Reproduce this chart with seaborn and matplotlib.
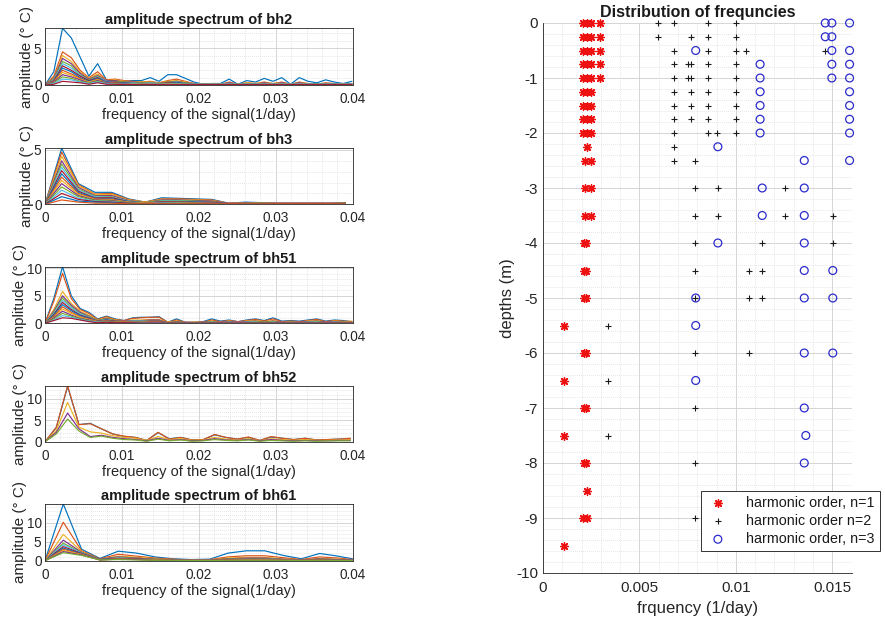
import numpy as np
import pandas as pd
import matplotlib
matplotlib.use("Agg")
import matplotlib.pyplot as plt
from matplotlib.ticker import MultipleLocator, FixedLocator, FixedFormatter
import seaborn as sns

# ---------------------------------------------------------------- data
# Amplitude spectra (deg C) per depth, one row per depth, on a uniform frequency grid
bh2_step = 0.00114
bh2_amp = [
    [0, 1.8, 7.7, 6.4, 3.8, 1.2, 2.9, 0.7, 0.6, 0.5, 0.6, 0.6, 1.0, 0.5, 1.4, 1.4, 0.9, 0.4, 0.1, 0.2, 0.2, 0.8, 0.1, 0.6, 0.4, 0.9, 0.5, 1.0, 0.1, 1.0, 0.5, 0.3, 0.7, 0.4, 0.2, 0.5],
    [0, 1.2, 4.5, 3.7, 2.0, 1.0, 1.8, 0.7, 0.8, 0.6, 0.5, 0.4, 0.5, 0.3, 0.6, 0.8, 0.5, 0.2, 0.1, 0.2, 0.1, 0.4, 0.1, 0.3, 0.2, 0.4, 0.2, 0.4, 0.1, 0.4, 0.2, 0.1, 0.3, 0.2, 0.1, 0.2],
    [0, 1.0, 4.0, 3.2, 1.8, 0.9, 1.5, 0.6, 0.7, 0.5, 0.4, 0.4, 0.4, 0.3, 0.5, 0.6, 0.4, 0.2, 0.1, 0.2, 0.1, 0.3, 0.1, 0.3, 0.2, 0.3, 0.2, 0.3, 0.1, 0.3, 0.2, 0.1, 0.2, 0.1, 0.1, 0.2],
    [0, 0.9, 3.6, 2.9, 1.6, 0.8, 1.3, 0.6, 0.6, 0.4, 0.4, 0.3, 0.3, 0.2, 0.4, 0.5, 0.3, 0.2, 0.1, 0.1, 0.1, 0.3, 0.1, 0.2, 0.1, 0.3, 0.1, 0.3, 0.1, 0.3, 0.1, 0.1, 0.2, 0.1, 0.1, 0.1],
    [0, 0.8, 3.2, 2.6, 1.4, 0.7, 1.2, 0.5, 0.5, 0.4, 0.3, 0.3, 0.3, 0.2, 0.4, 0.4, 0.3, 0.1, 0.1, 0.1, 0.1, 0.2, 0.1, 0.2, 0.1, 0.2, 0.1, 0.2, 0.1, 0.2, 0.1, 0.1, 0.2, 0.1, 0.1, 0.1],
    [0, 0.7, 2.9, 2.3, 1.3, 0.6, 1.1, 0.5, 0.4, 0.3, 0.3, 0.2, 0.3, 0.2, 0.3, 0.4, 0.2, 0.1, 0.1, 0.1, 0.1, 0.2, 0.1, 0.2, 0.1, 0.2, 0.1, 0.2, 0.1, 0.2, 0.1, 0.1, 0.1, 0.1, 0.1, 0.1],
    [0, 0.6, 2.6, 2.0, 1.2, 0.6, 1.0, 0.4, 0.4, 0.3, 0.2, 0.2, 0.2, 0.2, 0.3, 0.3, 0.2, 0.1, 0.1, 0.1, 0.1, 0.1, 0.1, 0.1, 0.1, 0.1, 0.1, 0.1, 0.1, 0.1, 0.1, 0.1, 0.1, 0.1, 0.1, 0.1],
    [0, 0.5, 2.3, 1.8, 1.0, 0.5, 0.9, 0.4, 0.3, 0.3, 0.2, 0.2, 0.2, 0.1, 0.2, 0.3, 0.2, 0.1, 0.1, 0.1, 0.1, 0.1, 0.1, 0.1, 0.1, 0.1, 0.1, 0.1, 0.1, 0.1, 0.1, 0.1, 0.1, 0.1, 0.1, 0.1],
    [0, 0.5, 2.0, 1.5, 0.9, 0.4, 0.8, 0.3, 0.3, 0.2, 0.2, 0.2, 0.2, 0.1, 0.2, 0.2, 0.1, 0.1, 0.1, 0.1, 0.1, 0.1, 0.1, 0.1, 0.1, 0.1, 0.1, 0.1, 0.1, 0.1, 0.1, 0.1, 0.1, 0.1, 0.1, 0.1],
    [0, 0.4, 1.7, 1.3, 0.8, 0.4, 0.7, 0.3, 0.2, 0.2, 0.2, 0.1, 0.1, 0.1, 0.2, 0.2, 0.1, 0.1, 0.1, 0.1, 0.1, 0.1, 0.1, 0.1, 0.1, 0.1, 0.1, 0.1, 0.1, 0.1, 0.1, 0.1, 0.1, 0.1, 0.1, 0.1],
    [0, 0.4, 1.4, 1.1, 0.7, 0.3, 0.6, 0.3, 0.2, 0.2, 0.1, 0.1, 0.1, 0.1, 0.1, 0.1, 0.1, 0.1, 0.1, 0.1, 0.1, 0.1, 0.1, 0.1, 0.1, 0.1, 0.1, 0.1, 0.1, 0.1, 0.1, 0.1, 0.1, 0.1, 0.1, 0.1],
    [0, 0.3, 1.1, 0.9, 0.5, 0.3, 0.5, 0.2, 0.2, 0.1, 0.1, 0.1, 0.1, 0.1, 0.1, 0.1, 0.1, 0.1, 0.1, 0.1, 0.1, 0.1, 0.1, 0.1, 0.1, 0.1, 0.1, 0.1, 0.1, 0.1, 0.1, 0.1, 0.1, 0.1, 0.1, 0.1],
    [0, 0.2, 0.8, 0.7, 0.4, 0.2, 0.4, 0.2, 0.1, 0.1, 0.1, 0.1, 0.1, 0.1, 0.1, 0.1, 0.1, 0.1, 0.1, 0.1, 0.1, 0.1, 0.1, 0.1, 0.1, 0.1, 0.1, 0.1, 0.1, 0.1, 0.1, 0.1, 0.1, 0.1, 0.1, 0.1],
    [0, 0.1, 0.5, 0.4, 0.3, 0.1, 0.3, 0.1, 0.1, 0.05, 0.05, 0.05, 0.05, 0.05, 0.05, 0.05, 0.05, 0.05, 0.05, 0.05, 0.05, 0.05, 0.05, 0.05, 0.05, 0.05, 0.05, 0.05, 0.05, 0.05, 0.05, 0.05, 0.05, 0.05, 0.05, 0.05],
]

bh3_step = 0.00217
bh3_amp = [
    [0, 5.15, 1.9, 1.1, 1.1, 0.5, 0.2, 0.6, 0.55, 0.5, 0.45, 0.1, 0.2, 0.15, 0.1, 0.1, 0.1, 0.1, 0.15],
    [0, 4.8, 1.8, 0.95, 1.0, 0.45, 0.2, 0.5, 0.5, 0.45, 0.4, 0.1, 0.15, 0.1, 0.1, 0.1, 0.1, 0.1, 0.1],
    [0, 4.4, 1.7, 0.9, 0.9, 0.4, 0.2, 0.45, 0.45, 0.4, 0.35, 0.1, 0.15, 0.1, 0.1, 0.1, 0.1, 0.1, 0.1],
    [0, 4.0, 1.55, 0.8, 0.8, 0.35, 0.15, 0.4, 0.4, 0.35, 0.3, 0.1, 0.1, 0.1, 0.1, 0.1, 0.1, 0.1, 0.1],
    [0, 3.7, 1.4, 0.75, 0.7, 0.3, 0.15, 0.35, 0.35, 0.3, 0.25, 0.05, 0.1, 0.1, 0.05, 0.05, 0.05, 0.05, 0.1],
    [0, 3.4, 1.3, 0.7, 0.65, 0.3, 0.1, 0.3, 0.3, 0.25, 0.2, 0.05, 0.1, 0.05, 0.05, 0.05, 0.05, 0.05, 0.05],
    [0, 3.1, 1.2, 0.6, 0.6, 0.25, 0.1, 0.25, 0.25, 0.2, 0.2, 0.05, 0.1, 0.05, 0.05, 0.05, 0.05, 0.05, 0.05],
    [0, 2.8, 1.1, 0.55, 0.5, 0.25, 0.1, 0.2, 0.2, 0.2, 0.15, 0.05, 0.05, 0.05, 0.05, 0.05, 0.05, 0.05, 0.05],
    [0, 2.5, 1.0, 0.5, 0.45, 0.2, 0.1, 0.2, 0.2, 0.15, 0.1, 0.05, 0.05, 0.05, 0.05, 0.05, 0.05, 0.05, 0.05],
    [0, 2.2, 0.9, 0.45, 0.4, 0.2, 0.1, 0.15, 0.15, 0.1, 0.1, 0.05, 0.05, 0.05, 0.05, 0.05, 0.05, 0.05, 0.05],
    [0, 1.9, 0.8, 0.4, 0.35, 0.15, 0.05, 0.15, 0.1, 0.1, 0.1, 0.05, 0.05, 0.05, 0.05, 0.05, 0.05, 0.05, 0.05],
    [0, 1.6, 0.7, 0.35, 0.3, 0.15, 0.05, 0.1, 0.1, 0.1, 0.05, 0.05, 0.05, 0.05, 0.05, 0.05, 0.05, 0.05, 0.05],
    [0, 1.3, 0.55, 0.3, 0.25, 0.1, 0.05, 0.1, 0.1, 0.05, 0.05, 0.05, 0.05, 0.05, 0.05, 0.05, 0.05, 0.05, 0.05],
    [0, 1.0, 0.45, 0.25, 0.2, 0.1, 0.05, 0.05, 0.05, 0.05, 0.05, 0.05, 0.05, 0.05, 0.05, 0.05, 0.05, 0.05, 0.05],
    [0, 0.7, 0.3, 0.2, 0.15, 0.05, 0.05, 0.05, 0.05, 0.05, 0.05, 0.05, 0.05, 0.05, 0.05, 0.05, 0.05, 0.05, 0.05],
    [0, 0.4, 0.2, 0.1, 0.1, 0.05, 0.05, 0.05, 0.05, 0.05, 0.05, 0.05, 0.05, 0.05, 0.05, 0.05, 0.05, 0.05, 0.05],
]

bh51_step = 0.00114
bh51_amp = [
    [0, 4.5, 10.3, 5.0, 2.7, 2.0, 0.8, 1.3, 0.8, 0.5, 1.0, 1.1, 1.1, 1.2, 0.2, 0.8, 0.2, 0.2, 0.3, 0.8, 0.4, 0.6, 0.3, 0.6, 0.8, 0.5, 1.0, 0.4, 0.5, 0.4, 0.6, 0.8, 0.4, 0.6, 0.5, 0.3],
    [0, 4.0, 9.1, 4.5, 2.5, 1.8, 0.7, 1.2, 0.7, 0.5, 0.9, 1.0, 1.1, 1.1, 0.2, 0.6, 0.2, 0.2, 0.2, 0.6, 0.3, 0.5, 0.3, 0.5, 0.7, 0.4, 0.8, 0.3, 0.4, 0.3, 0.5, 0.7, 0.3, 0.5, 0.4, 0.3],
    [0, 2.5, 5.8, 3.6, 2.2, 1.5, 0.6, 1.0, 0.6, 0.4, 0.6, 0.6, 0.7, 0.7, 0.2, 0.4, 0.1, 0.2, 0.2, 0.4, 0.2, 0.4, 0.2, 0.4, 0.5, 0.3, 0.5, 0.2, 0.3, 0.2, 0.4, 0.5, 0.2, 0.4, 0.3, 0.4],
    [0, 2.2, 5.0, 3.3, 2.0, 1.3, 0.5, 0.9, 0.5, 0.4, 0.5, 0.5, 0.6, 0.6, 0.1, 0.3, 0.1, 0.1, 0.2, 0.3, 0.2, 0.3, 0.2, 0.3, 0.4, 0.2, 0.4, 0.2, 0.2, 0.2, 0.3, 0.4, 0.2, 0.3, 0.2, 0.2],
    [0, 2.0, 4.6, 3.0, 1.8, 1.2, 0.5, 0.8, 0.5, 0.3, 0.4, 0.4, 0.5, 0.5, 0.1, 0.3, 0.1, 0.1, 0.1, 0.3, 0.1, 0.2, 0.1, 0.2, 0.3, 0.2, 0.3, 0.1, 0.2, 0.1, 0.2, 0.3, 0.1, 0.2, 0.2, 0.1],
    [0, 1.8, 4.2, 2.8, 1.7, 1.1, 0.4, 0.7, 0.4, 0.3, 0.4, 0.4, 0.4, 0.4, 0.1, 0.2, 0.1, 0.1, 0.1, 0.2, 0.1, 0.2, 0.1, 0.2, 0.2, 0.1, 0.2, 0.1, 0.1, 0.1, 0.2, 0.2, 0.1, 0.2, 0.1, 0.1],
    [0, 1.6, 3.8, 2.5, 1.5, 1.0, 0.4, 0.6, 0.4, 0.3, 0.3, 0.3, 0.4, 0.4, 0.1, 0.2, 0.1, 0.1, 0.1, 0.1, 0.1, 0.1, 0.1, 0.1, 0.1, 0.1, 0.1, 0.1, 0.1, 0.1, 0.1, 0.1, 0.1, 0.1, 0.1, 0.1],
    [0, 1.5, 3.4, 2.3, 1.4, 0.9, 0.3, 0.6, 0.3, 0.2, 0.3, 0.3, 0.3, 0.3, 0.1, 0.1, 0.1, 0.1, 0.1, 0.1, 0.1, 0.1, 0.1, 0.1, 0.1, 0.1, 0.1, 0.1, 0.1, 0.1, 0.1, 0.1, 0.1, 0.1, 0.1, 0.1],
    [0, 1.3, 3.0, 2.0, 1.2, 0.8, 0.3, 0.5, 0.3, 0.2, 0.2, 0.2, 0.3, 0.3, 0.1, 0.1, 0.1, 0.1, 0.1, 0.1, 0.1, 0.1, 0.1, 0.1, 0.1, 0.1, 0.1, 0.1, 0.1, 0.1, 0.1, 0.1, 0.1, 0.1, 0.1, 0.1],
    [0, 1.1, 2.6, 1.8, 1.1, 0.7, 0.3, 0.4, 0.2, 0.2, 0.2, 0.2, 0.2, 0.2, 0.1, 0.1, 0.1, 0.1, 0.1, 0.1, 0.1, 0.1, 0.1, 0.1, 0.1, 0.1, 0.1, 0.1, 0.1, 0.1, 0.1, 0.1, 0.1, 0.1, 0.1, 0.1],
    [0, 1.0, 2.2, 1.5, 0.9, 0.6, 0.2, 0.4, 0.2, 0.1, 0.1, 0.1, 0.2, 0.2, 0.1, 0.1, 0.1, 0.1, 0.1, 0.1, 0.1, 0.1, 0.1, 0.1, 0.1, 0.1, 0.1, 0.1, 0.1, 0.1, 0.1, 0.1, 0.1, 0.1, 0.1, 0.1],
    [0, 0.8, 1.8, 1.3, 0.8, 0.5, 0.2, 0.3, 0.2, 0.1, 0.1, 0.1, 0.1, 0.1, 0.1, 0.1, 0.1, 0.1, 0.1, 0.1, 0.1, 0.1, 0.1, 0.1, 0.1, 0.1, 0.1, 0.1, 0.1, 0.1, 0.1, 0.1, 0.1, 0.1, 0.1, 0.1],
    [0, 0.6, 1.4, 1.1, 0.7, 0.4, 0.2, 0.2, 0.1, 0.1, 0.1, 0.1, 0.1, 0.1, 0.05, 0.05, 0.05, 0.05, 0.05, 0.05, 0.05, 0.05, 0.05, 0.05, 0.05, 0.05, 0.05, 0.05, 0.05, 0.05, 0.05, 0.05, 0.05, 0.05, 0.05, 0.05],
    [0, 0.5, 1.0, 0.9, 0.6, 0.3, 0.1, 0.2, 0.1, 0.1, 0.1, 0.05, 0.05, 0.05, 0.05, 0.05, 0.05, 0.05, 0.05, 0.05, 0.05, 0.05, 0.05, 0.05, 0.05, 0.05, 0.05, 0.05, 0.05, 0.05, 0.05, 0.05, 0.05, 0.05, 0.05, 0.05],
]

bh52_step = 0.00147
bh52_amp = [
    [0, 3.3, 12.9, 4.0, 4.3, 3.0, 1.8, 1.2, 1.0, 0.3, 2.1, 0.7, 1.0, 0.4, 0.5, 1.6, 1.0, 0.6, 1.0, 0.3, 1.1, 0.8, 0.5, 0.8, 0.4, 0.5, 0.6, 0.7],
    [0, 3.4, 13.1, 4.0, 4.2, 3.0, 1.8, 1.3, 1.0, 0.3, 2.2, 0.6, 1.0, 0.4, 0.5, 1.7, 1.0, 0.6, 1.1, 0.3, 1.2, 0.8, 0.5, 0.8, 0.4, 0.5, 0.6, 0.8],
    [0, 2.6, 9.2, 3.4, 2.3, 2.0, 1.4, 1.0, 0.8, 0.3, 1.2, 0.5, 0.7, 0.3, 0.4, 1.0, 0.6, 0.4, 0.7, 0.2, 0.7, 0.5, 0.3, 0.5, 0.3, 0.3, 0.4, 0.5],
    [0, 2.2, 6.7, 3.0, 1.2, 1.5, 1.0, 0.7, 0.5, 0.2, 0.8, 0.3, 0.5, 0.2, 0.3, 0.7, 0.4, 0.3, 0.5, 0.2, 0.5, 0.3, 0.2, 0.3, 0.2, 0.2, 0.3, 0.3],
    [0, 1.8, 5.3, 2.5, 1.0, 1.3, 0.8, 0.5, 0.4, 0.1, 0.6, 0.2, 0.4, 0.1, 0.2, 0.5, 0.3, 0.2, 0.4, 0.1, 0.3, 0.2, 0.1, 0.2, 0.1, 0.2, 0.2, 0.2],
]

bh61_step = 0.00238
bh61_amp = [
    [0, 14.9, 3.0, 0.6, 2.5, 2.0, 1.0, 0.5, 0.3, 0.4, 2.0, 2.6, 2.6, 1.4, 0.5, 1.9, 1.2, 0.3],
    [0, 10.1, 2.6, 0.5, 1.7, 1.2, 0.7, 0.4, 0.2, 0.3, 1.0, 1.3, 1.3, 0.8, 0.3, 1.0, 0.7, 0.2],
    [0, 6.9, 2.4, 0.4, 1.2, 0.9, 0.5, 0.3, 0.2, 0.2, 0.7, 0.9, 0.9, 0.5, 0.2, 0.6, 0.4, 0.1],
    [0, 5.4, 2.2, 0.4, 1.0, 0.7, 0.4, 0.3, 0.2, 0.2, 0.5, 0.7, 0.7, 0.4, 0.2, 0.5, 0.3, 0.1],
    [0, 4.6, 2.1, 0.3, 0.8, 0.6, 0.4, 0.2, 0.1, 0.2, 0.4, 0.5, 0.5, 0.3, 0.1, 0.4, 0.3, 0.1],
    [0, 4.2, 2.0, 0.3, 0.7, 0.5, 0.3, 0.2, 0.1, 0.1, 0.3, 0.4, 0.4, 0.3, 0.1, 0.3, 0.2, 0.1],
    [0, 3.7, 1.9, 0.3, 0.6, 0.5, 0.3, 0.2, 0.1, 0.1, 0.3, 0.4, 0.4, 0.2, 0.1, 0.3, 0.2, 0.1],
    [0, 3.3, 1.8, 0.3, 0.5, 0.4, 0.2, 0.1, 0.1, 0.1, 0.2, 0.3, 0.3, 0.2, 0.1, 0.2, 0.2, 0.1],
    [0, 3.0, 1.7, 0.2, 0.5, 0.4, 0.2, 0.1, 0.1, 0.1, 0.2, 0.2, 0.2, 0.2, 0.1, 0.2, 0.1, 0.1],
    [0, 2.7, 1.6, 0.2, 0.4, 0.3, 0.2, 0.1, 0.1, 0.1, 0.1, 0.2, 0.2, 0.1, 0.1, 0.1, 0.1, 0.1],
    [0, 2.4, 1.5, 0.2, 0.4, 0.3, 0.1, 0.1, 0.1, 0.1, 0.1, 0.1, 0.1, 0.1, 0.1, 0.1, 0.1, 0.1],
    [0, 2.1, 1.4, 0.2, 0.3, 0.2, 0.1, 0.1, 0.05, 0.05, 0.1, 0.1, 0.1, 0.1, 0.05, 0.1, 0.05, 0.05],
]

boreholes = ["bh2", "bh3", "bh51", "bh52", "bh61"]
spectra = [bh2_amp, bh3_amp, bh51_amp, bh52_amp, bh61_amp]
steps = [bh2_step, bh3_step, bh51_step, bh52_step, bh61_step]
amp_ticks = [[0, 5], [0, 5], [0, 5, 10], [0, 5, 10], [0, 5, 10]]
freq_ticks = [0, 0.01, 0.02, 0.03, 0.04]
freq_ticklabels = ["0", "0.01", "0.02", "0.03", "0.04"]

# Harmonic frequencies (1/day) identified at each depth (m)
harmonic1 = {
    0.0: [0.00210, 0.00230, 0.00249, 0.00296],
    -0.25: [0.00210, 0.00230, 0.00249, 0.00296],
    -0.5: [0.00210, 0.00230, 0.00249, 0.00296],
    -0.75: [0.00210, 0.00230, 0.00249, 0.00296],
    -1.0: [0.00210, 0.00230, 0.00249, 0.00296],
    -1.25: [0.00210, 0.00230, 0.00249],
    -1.5: [0.00210, 0.00230, 0.00249],
    -1.75: [0.00210, 0.00230, 0.00249],
    -2.0: [0.00210, 0.00230, 0.00249],
    -2.25: [0.00227],
    -2.5: [0.00218, 0.00249],
    -3.0: [0.00218, 0.00249],
    -3.5: [0.00218, 0.00249],
    -4.0: [0.00215, 0.00221],
    -4.5: [0.00215, 0.00221],
    -5.0: [0.00215, 0.00221],
    -5.5: [0.00111],
    -6.0: [0.00215, 0.00221],
    -6.5: [0.00111],
    -7.0: [0.00215, 0.00221],
    -7.5: [0.00111],
    -8.0: [0.00215, 0.00221],
    -8.5: [0.00227],
    -9.0: [0.00210, 0.00227],
    -9.5: [0.00111],
}
harmonic2 = {
    0.0: [0.00595, 0.00680, 0.00858, 0.01003],
    -0.25: [0.00595, 0.00770, 0.00858, 0.01003],
    -0.5: [0.00680, 0.00858, 0.01003, 0.01052, 0.01464],
    -0.75: [0.00680, 0.00750, 0.00770, 0.00858, 0.01003],
    -1.0: [0.00680, 0.00750, 0.00770, 0.00858, 0.01003],
    -1.25: [0.00680, 0.00770, 0.00858, 0.01003],
    -1.5: [0.00680, 0.00770, 0.00858, 0.01003],
    -1.75: [0.00680, 0.00770, 0.00858, 0.01003],
    -2.0: [0.00680, 0.00858, 0.00900, 0.01003],
    -2.25: [0.00680],
    -2.5: [0.00680, 0.00790],
    -3.0: [0.00790, 0.00907, 0.01253],
    -3.5: [0.00790, 0.00907, 0.01253, 0.01503],
    -4.0: [0.00790, 0.01137, 0.01503],
    -4.5: [0.00790, 0.01069, 0.01137],
    -5.0: [0.00790, 0.01069, 0.01137],
    -5.5: [0.00339],
    -6.0: [0.00790, 0.01069],
    -6.5: [0.00339],
    -7.0: [0.00790],
    -7.5: [0.00339],
    -8.0: [0.00790],
    -9.0: [0.00789],
}
harmonic3 = {
    0.0: [0.01464, 0.01498, 0.01590],
    -0.25: [0.01464, 0.01498],
    -0.5: [0.00792, 0.01498, 0.01590],
    -0.75: [0.01126, 0.01498, 0.01590],
    -1.0: [0.01126, 0.01498, 0.01590],
    -1.25: [0.01126, 0.01590],
    -1.5: [0.01126, 0.01590],
    -1.75: [0.01126, 0.01590],
    -2.0: [0.01126, 0.01590],
    -2.25: [0.00907],
    -2.5: [0.01355, 0.01590],
    -3.0: [0.01137, 0.01355],
    -3.5: [0.01137, 0.01355],
    -4.0: [0.00907, 0.01355],
    -4.5: [0.01355, 0.01503],
    -5.0: [0.00792, 0.01355, 0.01503],
    -5.5: [0.00792],
    -6.0: [0.01355, 0.01503],
    -6.5: [0.00792],
    -7.0: [0.01355],
    -7.5: [0.01363],
    -8.0: [0.01355],
}
harmonic_labels = ["harmonic order, n=1", "harmonic order n=2", "harmonic order, n=3"]
depth_ticks = [0, -1, -2, -3, -4, -5, -6, -7, -8, -9, -10]
rate_ticks = [0, 0.005, 0.01, 0.015]
rate_ticklabels = ["0", "0.005", "0.01", "0.015"]

# ---------------------------------------------------------------- style
sns.set_style("white")
plt.rcParams["font.family"] = ["Liberation Sans", "DejaVu Sans"]
plt.rcParams["axes.unicode_minus"] = False
plt.rcParams["axes.edgecolor"] = "#262626"
plt.rcParams["axes.linewidth"] = 0.6
plt.rcParams["text.color"] = "#1a1a1a"
plt.rcParams["xtick.color"] = "#262626"
plt.rcParams["ytick.color"] = "#262626"

line_order = ["#0072BD", "#D95319", "#EDB120", "#7E2F8E", "#77AC30", "#4DBEEE", "#A2142F"]
W, H = 885, 622


def px_axes(fig, x0, x1, y_top, y_bot):
    return fig.add_axes([x0 / W, 1 - y_bot / H, (x1 - x0) / W, (y_bot - y_top) / H])


def style_grid(ax, xminor, yminor, fs):
    ax.xaxis.set_minor_locator(MultipleLocator(xminor))
    ax.yaxis.set_minor_locator(MultipleLocator(yminor))
    ax.grid(which="major", color="#cfcfcf", lw=0.6, ls="-")
    ax.grid(which="minor", color="#d8d8d8", lw=0.55, ls=(0, (1, 1.6)))
    ax.set_axisbelow(True)
    ax.tick_params(which="major", direction="in", length=3, width=0.6, labelsize=fs)
    ax.tick_params(which="minor", length=0)


def spectrum_frame(rows, step):
    freq, amp, depth = [], [], []
    for k, row in enumerate(rows):
        for j, a in enumerate(row):
            freq.append(j * step)
            amp.append(a)
            depth.append(f"d{k:02d}")
    return pd.DataFrame({"freq": freq, "amp": amp, "depth": depth})


def harmonic_frame(table):
    d, f = [], []
    for depth, freqs in table.items():
        for fr in freqs:
            d.append(depth)
            f.append(fr)
    return pd.DataFrame({"depth": d, "freq": f})


fig = plt.figure(figsize=(W / 100, H / 100), dpi=100)

# ---------------------------------------------------------------- spectra
panel_px = [(28.3, 85.0), (148.3, 204.3), (266.7, 323.3), (385.7, 441.7), (504.0, 560.7)]
for name, rows, step, yt, (yt_px, yb_px) in zip(boreholes, spectra, steps, amp_ticks, panel_px):
    ax = px_axes(fig, 45, 352.7, yt_px, yb_px)
    df = spectrum_frame(rows, step)
    levels = sorted(df["depth"].unique())
    pal = [line_order[k % len(line_order)] for k in range(len(levels))]
    sns.lineplot(data=df, x="freq", y="amp", hue="depth", hue_order=levels,
                 palette=pal, legend=False, lw=0.85, estimator=None, sort=False, ax=ax)
    ax.set_xlim(0, 0.04)
    ax.set_ylim(0, max(max(r) for r in rows))
    ax.xaxis.set_major_locator(FixedLocator(freq_ticks))
    ax.xaxis.set_major_formatter(FixedFormatter(freq_ticklabels))
    ax.yaxis.set_major_locator(FixedLocator(yt))
    style_grid(ax, 0.002, 1, 9.8)
    ax.tick_params(axis="x", pad=5)
    ax.tick_params(axis="y", pad=2.5)
    ax.set_title(f"amplitude spectrum of {name}", fontsize=10.5, fontweight="bold", pad=3)
    ax.set_xlabel("frequency of the signal(1/day)", fontsize=10.5, labelpad=1.5)
    ax.set_ylabel("amplitude (° C)", fontsize=11, labelpad=0)
    for s in ax.spines.values():
        s.set_visible(True)

# ---------------------------------------------------------------- harmonics
ax = px_axes(fig, 543, 851.5, 23, 573)
h_frames = [harmonic_frame(harmonic1), harmonic_frame(harmonic2), harmonic_frame(harmonic3)]
sns.scatterplot(data=h_frames[0], x="freq", y="depth", marker=(8, 2, 0), s=30,
                color="#ee1111", linewidth=1.0, clip_on=False, zorder=3,
                label=harmonic_labels[0], ax=ax)
sns.scatterplot(data=h_frames[1], x="freq", y="depth", marker="+", s=24,
                color="#1a1a1a", linewidth=0.8, clip_on=False, zorder=3,
                label=harmonic_labels[1], ax=ax)
sns.scatterplot(data=h_frames[2], x="freq", y="depth", marker="o", s=32,
                facecolor="none", edgecolor="#2b2bcc", linewidth=0.9, clip_on=False,
                zorder=3, label=harmonic_labels[2], ax=ax)
ax.set_xlim(0, 0.016)
ax.set_ylim(-10, 0)
ax.xaxis.set_major_locator(FixedLocator(rate_ticks))
ax.xaxis.set_major_formatter(FixedFormatter(rate_ticklabels))
ax.yaxis.set_major_locator(FixedLocator(depth_ticks))
style_grid(ax, 0.001, 0.2, 11)
ax.tick_params(axis="x", pad=6)
ax.tick_params(axis="y", pad=3.5)
ax.spines["top"].set_visible(False)
ax.spines["right"].set_visible(False)
ax.set_title("Distribution of frequncies", fontsize=11.5, fontweight="bold", pad=4)
ax.set_xlabel("frquency (1/day)", fontsize=12, labelpad=4)
ax.set_ylabel("depths (m)", fontsize=12, labelpad=1)
leg = ax.legend(loc="lower right", bbox_to_anchor=(880 / W, 1 - 551 / H),
                bbox_transform=fig.transFigure, fontsize=10.3, frameon=True,
                fancybox=False, framealpha=1, edgecolor="#333333",
                handletextpad=1.2, labelspacing=0.28, borderpad=0.35,
                handlelength=1.6, borderaxespad=0)
leg.get_frame().set_linewidth(0.7)

fig.savefig("out.png", dpi=100, facecolor="white")
